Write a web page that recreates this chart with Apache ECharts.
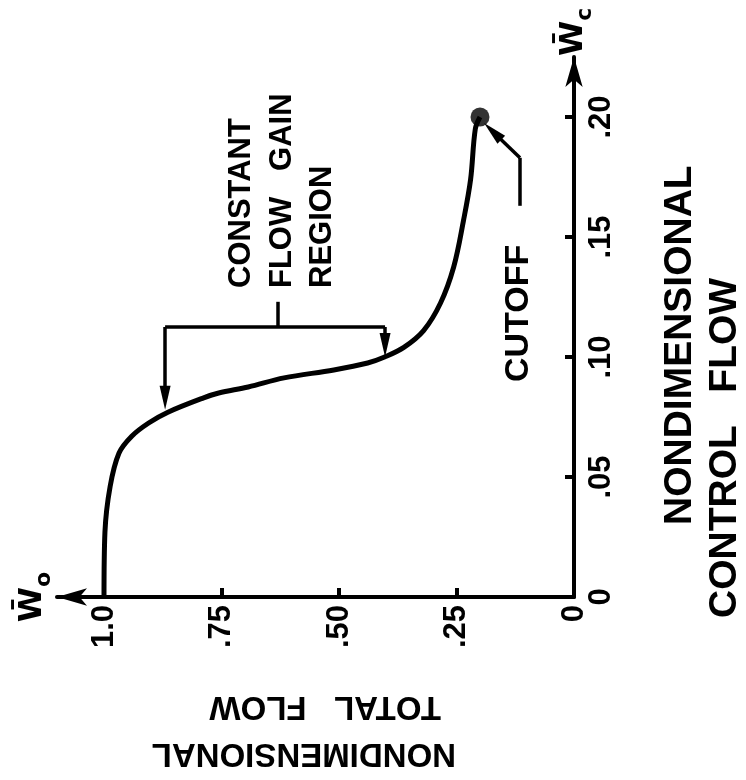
<!DOCTYPE html>
<html><head><meta charset="utf-8">
<script src="https://cdn.jsdelivr.net/npm/echarts@6/dist/echarts.min.js"></script>
<style>html,body{margin:0;padding:0;background:#fff}#c{width:746px;height:780px}</style>
</head><body><div id="c"></div>
<script>
// ---- data ----
const totalFlowTicks = [0, 0.25, 0.5, 0.75, 1.0];
const totalFlowTickLabels = ['0', '.25', '.50', '.75', '1.0'];
const controlFlowTicks = [0, 0.05, 0.10, 0.15, 0.20];
const controlFlowTickLabels = ['0', '.05', '.10', '.15', '.20'];
// nondimensional control flow (W_c) and total flow (W_o) along the curve
const controlFlow = [0, 0.027, 0.046, 0.060, 0.067, 0.0725, 0.077, 0.083, 0.085, 0.0875, 0.0913, 0.0946, 0.0975, 0.100, 0.104, 0.111, 0.1225, 0.1375, 0.157, 0.174, 0.195, 0.200];
const totalFlow   = [1.0, 0.998, 0.987, 0.968, 0.941, 0.905, 0.864, 0.788, 0.756, 0.693, 0.617, 0.511, 0.439, 0.403, 0.362, 0.320, 0.284, 0.256, 0.235, 0.220, 0.210, 0.200];
const cutoffControlFlow = [0.20];
const cutoffTotalFlow = [0.20];

const FONT = '"Liberation Sans", Arial, sans-serif';
const labelFor = (ticks, labels) => v => {
  const i = ticks.findIndex(t => Math.abs(t - v) < 1e-9);
  return i < 0 ? '' : labels[i];
};
const arrowPath = 'path://M5,0 L10,24 L0,24 Z';
const richName = {
  w: { fontSize: 32, fontWeight: 'bold', fontFamily: '"DejaVu Sans", sans-serif', color: '#000' },
  s: { fontSize: 22, fontWeight: 'bold', fontFamily: '"DejaVu Sans", sans-serif', color: '#000', verticalAlign: 'bottom', padding: [0, 0, -6, 0] }
};

const chart = echarts.init(document.getElementById('c'));
const txt = (x, y, rot, text, size) => ({
  type: 'text', x: x, y: y, rotation: rot,
  style: { text: text, fontSize: size, fontWeight: 'bold', fontFamily: FONT, fill: '#000', align: 'left', verticalAlign: 'middle' }
});

chart.setOption({
  animation: false,
  backgroundColor: '#fff',
  grid: { left: 57, right: 172, top: 57, bottom: 183 },
  xAxis: {
    type: 'value', inverse: true, min: 0, max: 1.1,
    name: '{w|W\u0304}{s|o}', nameLocation: 'end', nameGap: 8, nameRotate: 90,
    nameTextStyle: { rich: richName },
    axisLine: { show: true, onZero: false, lineStyle: { color: '#000', width: 4 }, symbol: ['arrow', 'none'], symbolSize: [13, 30] },
    axisTick: { show: true, inside: true, length: 9, lineStyle: { color: '#000', width: 4 }, customValues: [0.25, 0.5, 0.75] },
    axisLabel: { customValues: totalFlowTicks, rotate: 90, margin: 8, formatter: labelFor(totalFlowTicks, totalFlowTickLabels), color: '#000', fontSize: 31, fontWeight: 'bold', fontFamily: FONT },
    splitLine: { show: false }
  },
  yAxis: {
    type: 'value', position: 'right', min: 0, max: 0.225,
    name: '{w|W\u0304}{s|c}', nameLocation: 'end', nameGap: 1, nameRotate: 90,
    nameTextStyle: { rich: richName },
    axisLine: { show: true, onZero: false, lineStyle: { color: '#000', width: 4 }, symbol: ['none', 'arrow'], symbolSize: [13, 30] },
    axisTick: { show: true, inside: true, length: 9, lineStyle: { color: '#000', width: 4 }, customValues: [0.05, 0.10, 0.15, 0.20] },
    axisLabel: { customValues: controlFlowTicks, rotate: 90, margin: 12, formatter: labelFor(controlFlowTicks, controlFlowTickLabels), color: '#000', fontSize: 31, fontWeight: 'bold', fontFamily: FONT },
    splitLine: { show: false }
  },
  series: [
    {
      type: 'line', smooth: 0.35, showSymbol: false, silent: true,
      data: totalFlow.map((v, i) => [v, controlFlow[i]]),
      lineStyle: { color: '#000', width: 5 },
      markLine: {
        silent: true, animation: false,
        label: { show: false },
        lineStyle: { color: '#000', width: 3.5, type: 'solid' },
        symbol: ['none', 'none'],
        data: [
          [{ coord: [0.870, 0.1125] }, { coord: [0.402, 0.1125] }],
          [{ coord: [0.630, 0.1125] }, { coord: [0.630, 0.123] }],
          [{ coord: [0.870, 0.1125] }, { coord: [0.870, 0.083], symbol: arrowPath, symbolSize: [11, 24] }],
          [{ coord: [0.402, 0.1125] }, { coord: [0.402, 0.105], symbol: arrowPath, symbolSize: [11, 24] }],
          [{ coord: [0.115, 0.163] }, { coord: [0.115, 0.183] }],
          [{ coord: [0.115, 0.183] }, { coord: [0.173, 0.194], symbol: arrowPath, symbolSize: [11, 24] }]
        ]
      }
    },
    {
      type: 'scatter', silent: true, symbolSize: 19,
      data: cutoffTotalFlow.map((v, i) => [v, cutoffControlFlow[i]]),
      itemStyle: { color: '#000' }
    }
  ],
  graphic: [
    txt(241, 288, Math.PI / 2, 'CONSTANT', 31),
    txt(282, 288, Math.PI / 2, 'FLOW   GAIN', 31),
    txt(322, 288, Math.PI / 2, 'REGION', 31),
    txt(519, 382, Math.PI / 2, 'CUTOFF', 34),
    txt(680, 525, Math.PI / 2, 'NONDIMENSIONAL', 39),
    txt(725, 618, Math.PI / 2, 'CONTROL   FLOW', 39),
    txt(456, 753, Math.PI, 'NONDIMENSIONAL', 33),
    txt(441, 706, Math.PI, 'TOTAL   FLOW', 33)
  ]
});
</script>
</body></html>
